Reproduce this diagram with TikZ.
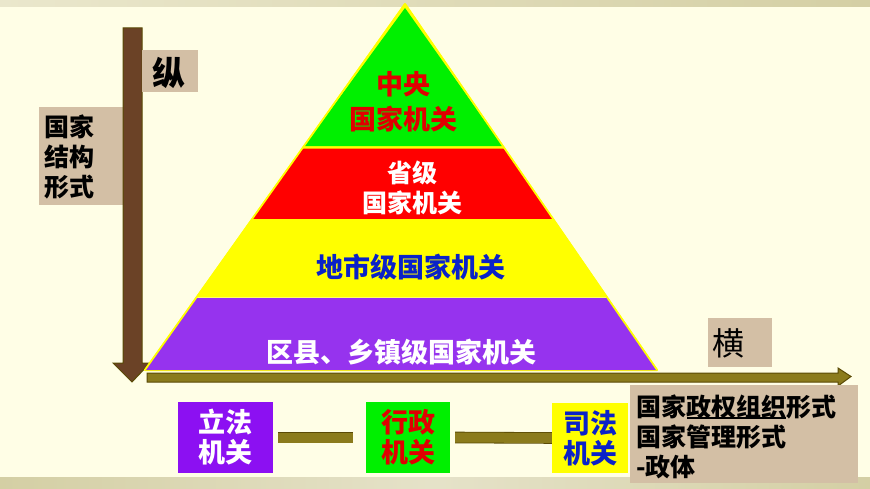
\documentclass[tikz,border=0pt]{standalone}
\usepackage{fontspec}
\newfontfamily\cjk{Noto Sans CJK SC}
\usetikzlibrary{calc}
\definecolor{bgc}{HTML}{FFFEE6}
\definecolor{barc}{HTML}{D4CFA4}
\definecolor{barl}{HTML}{EAE7CC}
\definecolor{tanc}{HTML}{D3BFA5}
\definecolor{brownc}{HTML}{6B4226}
\definecolor{oliveedge}{HTML}{5A4A05}
\definecolor{olivec}{HTML}{8B7B1C}
\definecolor{greenc}{HTML}{00F000}
\definecolor{redc}{HTML}{FF0000}
\definecolor{yellowc}{HTML}{FFFF00}
\definecolor{purplec}{HTML}{9633EE}
\definecolor{purplebox}{HTML}{8C10F2}
\definecolor{bluec}{HTML}{0A22C8}
\definecolor{darkredc}{HTML}{E00000}
\tikzset{
  txt/.style={inner sep=0pt, font=\cjk\bfseries},
  tanbox/.style={fill=tanc, inner sep=0pt},
  orgbox/.style={minimum height=71pt, inner sep=0pt, align=center,
     font=\cjk\bfseries\fontsize{27}{30}\selectfont},
  link/.style={draw=oliveedge, line width=0.8pt, double=olivec, double distance=10pt},
}
\begin{document}
\begin{tikzpicture}[x=1pt,y=-1pt]
\useasboundingbox (0,0) rectangle (870,489);
\fill[bgc] (0,0) rectangle (870,489);
\shade[left color=barl, right color=barc] (0,0) rectangle (870,7);
\shade[left color=barc, right color=barc!60!white] (0,477) rectangle (435,489);
\shade[left color=barc!60!white, right color=barc] (435,477) rectangle (870,489);

% left label box
\node[tanbox, minimum width=84pt, minimum height=98pt] (gjbox) at (81,156) {};
\node[txt, anchor=west, align=left, font=\cjk\bfseries\fontsize{25}{30}\selectfont] (gj) at (44,157) {国家\\结构\\形式};

% vertical axis
\coordinate (vtop) at (132.5,28);
\coordinate (vtip) at (132,382);
\filldraw[fill=brownc, draw=oliveedge, line width=1pt]
  (123,28) -- (142,28) -- (142,363) -- (150,363) -- (vtip) -- (113,363) -- (123,363) -- cycle;

% zong box
\node[tanbox, minimum width=56pt, minimum height=42pt] (zongbox) at (170,71) {};
\node[txt, font=\cjk\bfseries\fontsize{33}{36}\selectfont] (zong) at (169,73) {纵};

% pyramid
\coordinate (apex) at (405,4);
\coordinate (bl) at (145,370);
\coordinate (br) at (657,370);
\filldraw[fill=yellowc, draw=yellowc, line width=2pt, line join=round] (apex) -- (bl) -- (br) -- cycle;
\fill[greenc] (apex) ++(0,4) -- ($(apex)!0.388!(bl)$) -- ($(apex)!0.388!(br)$) -- cycle;
\fill[redc] ($(apex)!0.395!(bl)$) -- ($(apex)!0.587!(bl)$) -- ($(apex)!0.587!(br)$) -- ($(apex)!0.395!(br)$) -- cycle;
\fill[purplec] ($(apex)!0.803!(bl)$) -- (bl) -- (br) -- ($(apex)!0.803!(br)$) -- cycle;
\draw[yellowc!60!white, line width=0.8pt] ($(apex)!0.803!(bl)$) -- ($(apex)!0.803!(br)$);
\draw[yellowc, line width=1.5pt, line join=round] (apex) -- (bl) (apex) -- (br);

\node[txt, text=darkredc, align=center, font=\cjk\bfseries\fontsize{27}{35}\selectfont] (zy) at (403,102) {中央\\国家机关};
\node[txt, text=white, align=center, font=\cjk\bfseries\fontsize{25}{30}\selectfont] (sj) at (412,188) {省级\\国家机关};
\node[txt, text=bluec, font=\cjk\bfseries\fontsize{27}{30}\selectfont] (ds) at (411,267) {地市级国家机关};
\node[txt, text=white, font=\cjk\bfseries\fontsize{27}{30}\selectfont] (qx) at (401,352) {区县、乡镇级国家机关};

% horizontal axis
\coordinate (hstart) at (147,377.5);
\coordinate (htip) at (851,376.5);
\filldraw[fill=olivec, draw=oliveedge, line width=1pt]
  (147,373) -- (838,373) -- (838,368) -- (htip) -- (838,386) -- (838,382) -- (147,382) -- cycle;

% heng box
\node[tanbox, minimum width=64pt, minimum height=49pt] (hengbox) at (740,342.5) {};
\node[txt, font=\cjk\fontsize{32}{34}\selectfont, anchor=west] (heng) at (712,343) {横};

% org boxes
\node[orgbox, fill=purplebox, text=white, minimum width=95pt] (lf) at (225.5,437.5) {立法\\机关};
\node[orgbox, fill=greenc, text=darkredc, minimum width=84pt] (xz) at (408,437.5) {行政\\机关};
\draw[link] ([xshift=5pt]lf.east) -- ([xshift=-13pt]xz.west);
\coordinate (sfpos) at (590,438);
\draw[link] ([xshift=5pt]xz.east) -- ([xshift=-36pt]sfpos);
\node[orgbox, fill=yellowc, text=bluec, minimum width=76pt, minimum height=70pt] (sf) at (sfpos) {司法\\机关};

% right description box
\node[tanbox, minimum width=228pt, minimum height=98pt] (zt) at (744,434) {};
\node[txt, anchor=west, align=left, font=\cjk\bfseries\fontsize{25}{30}\selectfont] (ztt) at (636,437) {国家政权组织形式\\国家管理形式\\-政体};
\draw[black, line width=1.5pt] ([shift={(51,-19)}]ztt.west) -- ([shift={(150,-19)}]ztt.west);
\end{tikzpicture}
\end{document}
